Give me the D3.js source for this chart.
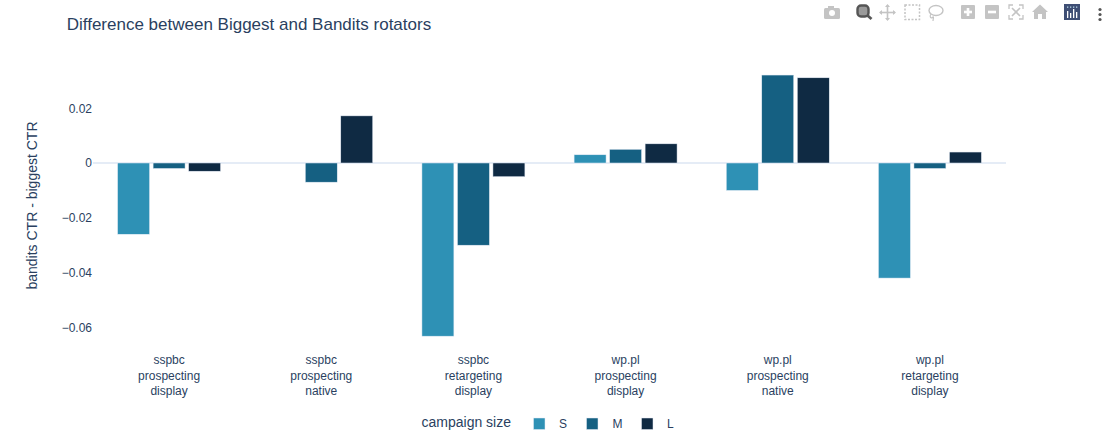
<!DOCTYPE html>
<html><head><meta charset="utf-8">
<script src="https://cdn.jsdelivr.net/npm/d3@7"></script>
<style>html,body{margin:0;padding:0;background:#fff}svg{display:block}text{fill:#2a3f5f}</style>
</head><body><div id="c"></div>
<script>
const categories=[["sspbc","prospecting","display"],["sspbc","prospecting","native"],["sspbc","retargeting","display"],["wp.pl","prospecting","display"],["wp.pl","prospecting","native"],["wp.pl","retargeting","display"]];
const seriesNames=["S","M","L"];
const valuesS=[-0.026,null,-0.0632,0.003,-0.010,-0.042];
const valuesM=[-0.002,-0.007,-0.030,0.005,0.0321,-0.002];
const valuesL=[-0.003,0.0172,-0.005,0.007,0.0311,0.004];
const colors=["#2e91b5","#156082","#0f2a43"];
const yTicks=[0.02,0,-0.02,-0.04,-0.06];
const allValues=[valuesS,valuesM,valuesL];

const W=1110,H=444,FONT='"Liberation Sans",Arial,sans-serif';
const svg=d3.select("#c").append("svg").attr("width",W).attr("height",H);
svg.style("font-family",FONT);
const y=d3.scaleLinear().domain([0,0.02]).range([163,108.2]);
const x0=d3.scaleBand().domain(d3.range(categories.length)).range([93,1006]);
const x1=d3.scaleBand().domain(seriesNames).range([x0.bandwidth()*0.15,x0.bandwidth()*0.85]).paddingInner(0.1).paddingOuter(0.05);

svg.append("text").attr("x",66.7).attr("y",30).style("font-size","17px").text("Difference between Biggest and Bandits rotators");

const yAxis=d3.axisLeft(y).tickValues(yTicks).tickSize(0).tickPadding(0)
  .tickFormat(d=>d===0?"0":(d<0?"\u2212":"")+d3.format(".2f")(Math.abs(d)));
const ga=svg.append("g").attr("transform","translate(92,0)").call(yAxis);
ga.select(".domain").remove();
ga.selectAll("text").style("font-family",FONT).style("font-size","12px").attr("y",-0.3).attr("dy","0.35em");

svg.append("line").attr("x1",93).attr("x2",1006).attr("y1",y(0)).attr("y2",y(0)).attr("stroke","#e5ecf6").attr("stroke-width",2);

seriesNames.forEach((s,i)=>{
  svg.append("g").selectAll("rect").data(allValues[i].map((v,k)=>({v,k})).filter(d=>d.v!==null)).join("rect")
    .attr("x",d=>x0(d.k)+x1(s)).attr("width",x1.bandwidth())
    .attr("y",d=>Math.min(y(d.v),y(0))).attr("height",d=>Math.abs(y(d.v)-y(0)))
    .attr("fill",colors[i]).attr("stroke","#e5ecf6").attr("stroke-width",0.5);
});

categories.forEach((c,k)=>{
  const t=svg.append("text").attr("text-anchor","middle").style("font-size","12px");
  c.forEach((line,j)=>t.append("tspan").attr("x",x0(k)+x0.bandwidth()/2).attr("y",364+j*15.6).text(line));
});

svg.append("text").attr("transform","translate(37,205.5) rotate(-90)").attr("text-anchor","middle").style("font-size","14px").text("bandits CTR - biggest CTR");

svg.append("text").attr("x",421.5).attr("y",427).style("font-size","14px").text("campaign size");
const legendX=[533.5,586.5,641.5],legendT=[559,612.5,667];
seriesNames.forEach((s,i)=>{
  svg.append("rect").attr("x",legendX[i]).attr("y",418).attr("width",11.5).attr("height",11.5).attr("fill",colors[i]).attr("stroke","#e5ecf6").attr("stroke-width",0.5);
  svg.append("text").attr("x",legendT[i]).attr("y",428).style("font-size","12px").text(s);
});

// modebar
const mb=svg.append("g").attr("class","modebar");
const g="#c4c4c4";
// camera
mb.append("rect").attr("x",824).attr("y",8).attr("width",16).attr("height",11).attr("rx",1.5).attr("fill",g);
mb.append("rect").attr("x",828).attr("y",6).attr("width",6).attr("height",3).attr("fill",g);
mb.append("circle").attr("cx",832).attr("cy",13).attr("r",3).attr("fill","#fff");
// zoom (active)
mb.append("rect").attr("x",857.5).attr("y",5.5).attr("width",11).attr("height",11).attr("rx",3.5).attr("fill","#9a9a9a").attr("stroke","#555").attr("stroke-width",2.4);
mb.append("line").attr("x1",867.5).attr("y1",15.5).attr("x2",871.5).attr("y2",19).attr("stroke","#555").attr("stroke-width",2.8);
// pan
const pan=mb.append("g").attr("stroke",g).attr("stroke-width",1.6).attr("fill","none");
pan.append("line").attr("x1",880).attr("x2",895).attr("y1",12.5).attr("y2",12.5);
pan.append("line").attr("x1",887.5).attr("x2",887.5).attr("y1",5).attr("y2",20);
[[887.5,4,885,7,890,7],[887.5,21,885,18,890,18],[879,12.5,882,10,882,15],[896,12.5,893,10,893,15]].forEach(p=>{
  mb.append("path").attr("d",`M${p[0]},${p[1]}L${p[2]},${p[3]}L${p[4]},${p[5]}Z`).attr("fill",g);
});
// box select
mb.append("rect").attr("x",905).attr("y",5).attr("width",14.5).attr("height",14.5).attr("fill","none").attr("stroke",g).attr("stroke-width",1.5).attr("stroke-dasharray","2 1.5");
// lasso
mb.append("ellipse").attr("cx",936).attr("cy",10.5).attr("rx",7).attr("ry",5).attr("fill","none").attr("stroke",g).attr("stroke-width",1.4);
mb.append("path").attr("d","M931,14c-2,3,0,5,2,3c1,-1,0,3,0,4").attr("fill","none").attr("stroke",g).attr("stroke-width",1.2);
// zoom in / out
[[961,true],[985,false]].forEach(([xx,plus])=>{
  mb.append("rect").attr("x",xx).attr("y",5).attr("width",14).attr("height",14).attr("rx",1).attr("fill",g);
  mb.append("rect").attr("x",xx+3).attr("y",10.7).attr("width",8).attr("height",2.6).attr("fill","#fff");
  if(plus) mb.append("rect").attr("x",xx+5.7).attr("y",8).attr("width",2.6).attr("height",8).attr("fill","#fff");
});
// autoscale
mb.append("path").attr("d","M1009,9V5H1013M1019,5H1023V9M1023,15V19H1019M1013,19H1009V15").attr("fill","none").attr("stroke",g).attr("stroke-width",1.3);
mb.append("path").attr("d","M1012,8L1020,16M1020,8L1012,16").attr("stroke",g).attr("stroke-width",1.6);
// home
mb.append("path").attr("d","M1040,4.5L1048,12H1046V19H1042V14H1038V19H1034V12H1032Z").attr("fill",g);
// plotly logo
mb.append("rect").attr("x",1064).attr("y",4).attr("width",16).attr("height",16).attr("fill","#3f4f75");
[[1067,11,7],[1070,13,5],[1073,9,9],[1076,12,6]].forEach(b=>mb.append("rect").attr("x",b[0]).attr("y",b[1]).attr("width",1.3).attr("height",b[2]).attr("fill","#fff"));
[1067,1070,1073,1076].forEach(xx=>mb.append("rect").attr("x",xx).attr("y",6.5).attr("width",1.3).attr("height",1.3).attr("fill","#b9d9e8"));
// dots
[10,15,20].forEach(cy=>mb.append("circle").attr("cx",1100).attr("cy",cy-0.5).attr("r",1.6).attr("fill","#555"));
</script></body></html>
